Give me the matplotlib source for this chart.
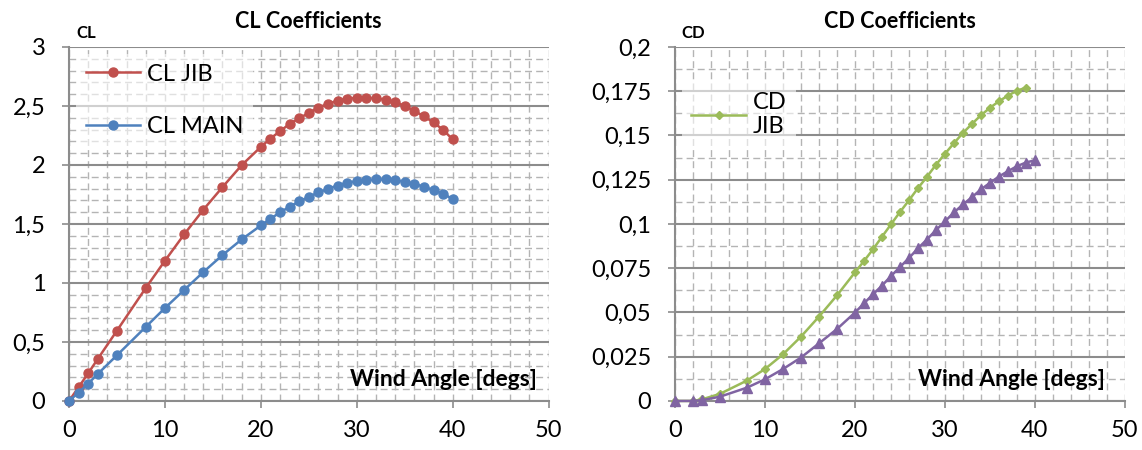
import matplotlib
matplotlib.use("Agg")
import matplotlib.pyplot as plt
from matplotlib.ticker import MultipleLocator, FuncFormatter

plt.rcParams['font.family'] = ['Lato', 'DejaVu Sans']

# data
angle_cl = [0, 1, 2, 3, 5, 8, 10, 12, 14, 16, 18, 20, 21, 22, 23, 24, 25, 26, 27, 28,
            29, 30, 31, 32, 33, 34, 35, 36, 37, 38, 39, 40]
cl_jib = [0, 0.116, 0.234, 0.356, 0.596, 0.957, 1.188, 1.411, 1.620, 1.812, 1.998, 2.153,
          2.224, 2.286, 2.348, 2.396, 2.441, 2.487, 2.518, 2.546, 2.563, 2.568, 2.568,
          2.566, 2.551, 2.532, 2.501, 2.458, 2.413, 2.360, 2.298, 2.216]
cl_main = [0, 0.071, 0.147, 0.229, 0.387, 0.627, 0.787, 0.940, 1.092, 1.236, 1.369, 1.487,
           1.544, 1.598, 1.646, 1.691, 1.730, 1.767, 1.798, 1.826, 1.849, 1.863, 1.871,
           1.877, 1.877, 1.871, 1.857, 1.840, 1.815, 1.787, 1.758, 1.710]

angle_cd_jib = [0, 2, 3, 5, 8, 10, 12, 14, 16, 18, 20, 21, 22, 23, 24, 25, 26, 27, 28,
                29, 30, 31, 32, 33, 34, 35, 36, 37, 38, 39]
cd_jib = [0, 0, 0.0009, 0.004, 0.0115, 0.018, 0.0263, 0.0363, 0.0476, 0.0596, 0.0726,
          0.079, 0.0856, 0.0927, 0.0997, 0.1067, 0.1133, 0.1202, 0.1266, 0.1334, 0.1396,
          0.1456, 0.1514, 0.1565, 0.1614, 0.1656, 0.1693, 0.1725, 0.1753, 0.177]
angle_cd_main = [0, 2, 3, 5, 8, 10, 12, 14, 16, 18, 20, 21, 22, 23, 24, 25, 26, 27, 28,
                 29, 30, 31, 32, 33, 34, 35, 36, 37, 38, 39, 40]
cd_main = [0, 0, 0.0004, 0.0024, 0.0075, 0.0122, 0.018, 0.0245, 0.0325, 0.0406, 0.0499,
           0.0551, 0.0602, 0.0651, 0.0705, 0.0756, 0.0807, 0.0862, 0.0912, 0.0965, 0.1014,
           0.1065, 0.111, 0.1151, 0.1195, 0.1232, 0.1268, 0.1298, 0.1326, 0.1347, 0.136]

RED = "#C0504D"
BLUE = "#4F81BD"
GREEN = "#9BBB59"
PURPLE = "#8064A2"
GRID = "#8c8c8c"
MINOR = "#b4b4b4"


def comma(v, pos):
    s = ("%.3f" % v).rstrip("0").rstrip(".")
    return s.replace(".", ",")


def style(ax, ymax, ymajor, yminor, xlab):
    ax.set_xlim(0, 50)
    ax.set_ylim(0, ymax)
    ax.xaxis.set_major_locator(MultipleLocator(10))
    ax.xaxis.set_minor_locator(MultipleLocator(2))
    ax.yaxis.set_major_locator(MultipleLocator(ymajor))
    ax.yaxis.set_minor_locator(MultipleLocator(yminor))
    ax.yaxis.set_major_formatter(FuncFormatter(comma))
    ax.grid(which="minor", axis="both", color=MINOR, linestyle=(0, (5, 3)), linewidth=1.0)
    ax.grid(which="major", axis="x", color=MINOR, linestyle=(0, (5, 3)), linewidth=1.0)
    ax.grid(which="major", axis="y", color=GRID, linestyle="-", linewidth=1.5)
    ax.set_axisbelow(True)
    for s in ["top", "right"]:
        ax.spines[s].set_visible(False)
    for s in ["left", "bottom"]:
        ax.spines[s].set_color(GRID)
        ax.spines[s].set_linewidth(1.5)
    ax.tick_params(which="major", length=5, color=GRID, width=1.2, labelsize=17)
    ax.tick_params(axis="y", pad=12)
    ax.tick_params(axis="x", pad=9)
    ax.tick_params(which="minor", length=0)
    ax.text(xlab, 0.03, "Wind Angle [degs]", transform=ax.transAxes, ha="right",
            va="bottom", fontsize=16.5, fontweight="bold")


fig = plt.figure(figsize=(11.42, 4.5), dpi=100)
ax1 = fig.add_axes([0.0604, 0.109, 0.42, 0.7866])
ax2 = fig.add_axes([0.591, 0.109, 0.394, 0.7866])

# left chart
ax1.plot(angle_cl, cl_jib, color=RED, marker="o", markersize=6.5, linewidth=1.8,
         label="CL JIB", clip_on=False, zorder=3)
ax1.plot(angle_cl, cl_main, color=BLUE, marker="o", markersize=6.5, linewidth=1.8,
         label="CL MAIN", clip_on=False, zorder=3)
style(ax1, 3, 0.5, 0.1, 0.975)
ax1.set_title("CL Coefficients", fontsize=15.5, fontweight="bold", pad=14)
ax1.text(0.015, 1.025, "CL", transform=ax1.transAxes, fontsize=12, fontweight="bold")
leg = ax1.legend(loc="upper left", bbox_to_anchor=(0.0, 1.0), fontsize=17, frameon=True,
                 handlelength=2.3, labelspacing=1.35, handletextpad=0.3, borderaxespad=0.3)
leg.get_frame().set_facecolor("white")
leg.get_frame().set_alpha(0.6)
leg.get_frame().set_edgecolor("none")

# right chart
ax2.plot(angle_cd_jib, cd_jib, color=GREEN, marker="D", markersize=4.5, linewidth=1.8,
         label="CD\nJIB", clip_on=False, zorder=3)
ax2.plot(angle_cd_main, cd_main, color=PURPLE, marker="^", markersize=7, linewidth=1.8,
         clip_on=False, zorder=3)
style(ax2, 0.2, 0.025, 0.0125, 0.955)
ax2.set_title("CD Coefficients", fontsize=15.5, fontweight="bold", pad=14)
ax2.text(0.015, 1.025, "CD", transform=ax2.transAxes, fontsize=12, fontweight="bold")
leg2 = ax2.legend(loc="upper left", bbox_to_anchor=(0.0, 0.92), fontsize=17, frameon=True,
                  handlelength=2.3, handletextpad=0.3, borderaxespad=0.3)
leg2.get_frame().set_facecolor("white")
leg2.get_frame().set_alpha(0.6)
leg2.get_frame().set_edgecolor("none")

fig.savefig("out.png", dpi=100)
